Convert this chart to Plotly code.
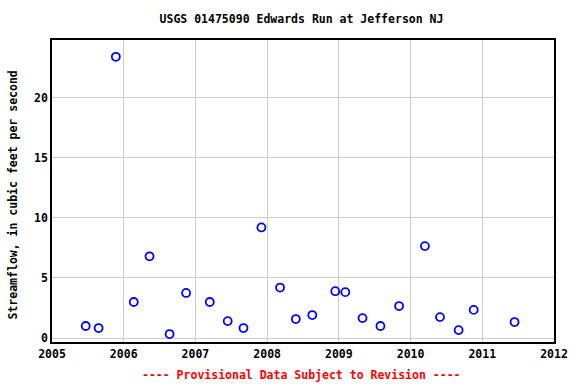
import plotly.graph_objects as go

years = [2005.47, 2005.65, 2005.89, 2006.14, 2006.36, 2006.64, 2006.87, 2007.20,
         2007.45, 2007.67, 2007.92, 2008.18, 2008.40, 2008.63, 2008.95, 2009.09,
         2009.33, 2009.58, 2009.84, 2010.20, 2010.41, 2010.67, 2010.88, 2011.45]
flow = [1.0, 0.83, 23.4, 3.0, 6.8, 0.33, 3.75, 3.0,
        1.41, 0.83, 9.2, 4.2, 1.58, 1.91, 3.9, 3.82,
        1.66, 1.0, 2.66, 7.65, 1.74, 0.66, 2.34, 1.33]
x_ticks = [2005, 2006, 2007, 2008, 2009, 2010, 2011, 2012]
y_ticks = [0, 5, 10, 15, 20]

FONT = "DejaVu Sans Mono"
FS = 11.5

fig = go.Figure()
fig.add_trace(go.Scatter(
    x=years, y=flow, mode="markers",
    marker=dict(symbol="circle-open", size=8, color="#0000ff", line=dict(width=1.8, color="#0000ff")),
    showlegend=False,
))

fig.update_layout(
    width=576, height=384,
    margin=dict(l=52, r=22, t=40, b=42, autoexpand=False),
    paper_bgcolor="white", plot_bgcolor="white",
    title=dict(text="<b>USGS 01475090 Edwards Run at Jefferson NJ</b>",
               x=301.5 / 576, xanchor="center", y=1 - 19 / 384, yanchor="middle",
               font=dict(family=FONT, size=FS, color="black")),
    xaxis=dict(range=[2005, 2012], tickvals=x_ticks, ticktext=[f"<b>{v}</b>" for v in x_ticks],
               showgrid=True, gridcolor="#cccccc", gridwidth=1,
               showline=True, linecolor="black", linewidth=1.5, mirror=True,
               zeroline=False, ticks="", tickfont=dict(family=FONT, size=FS, color="black")),
    yaxis=dict(range=[-0.33, 24.8], tickvals=y_ticks, ticktext=[f"<b>{v}</b>" for v in y_ticks],
               showgrid=True, gridcolor="#cccccc", gridwidth=1,
               showline=True, linecolor="black", linewidth=1.5, mirror=True,
               zeroline=False, ticks="", tickfont=dict(family=FONT, size=FS, color="black")),
    annotations=[
        dict(text="<b>---- Provisional Data Subject to Revision ----</b>",
             x=(301 - 52) / 502, xref="paper", y=-(375 - 342) / 302, yref="paper",
             xanchor="center", yanchor="middle",
             showarrow=False, font=dict(family=FONT, size=FS, color="red")),
        dict(text="<b>Streamflow, in cubic feet per second</b>", textangle=-90,
             x=(12.5 - 52) / 502, xref="paper", y=(342 - 195) / 302, yref="paper",
             xanchor="center", yanchor="middle",
             showarrow=False, font=dict(family=FONT, size=FS, color="black")),
    ],
)

fig.write_html("out.html", post_script="document.body.style.margin='0';",
               config={"displayModeBar": False})
